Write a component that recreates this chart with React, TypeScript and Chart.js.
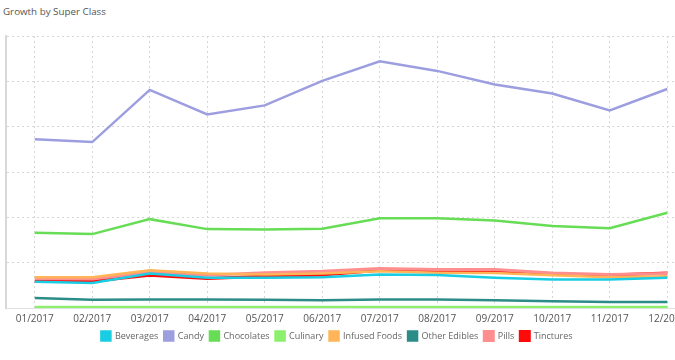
import React, { useEffect, useRef } from "react";
import { Chart, registerables } from "chart.js";

Chart.register(...registerables);

const months = ["01/2017", "02/2017", "03/2017", "04/2017", "05/2017", "06/2017", "07/2017", "08/2017", "09/2017", "10/2017", "11/2017", "12/2017"];

const beverages = [0.58, 0.55, 0.76, 0.67, 0.67, 0.68, 0.74, 0.73, 0.67, 0.63, 0.63, 0.67];
const candy = [3.72, 3.66, 4.81, 4.27, 4.47, 5.01, 5.44, 5.23, 4.93, 4.73, 4.36, 4.83];
const chocolates = [1.66, 1.63, 1.96, 1.74, 1.73, 1.75, 1.98, 1.98, 1.93, 1.81, 1.76, 2.1];
const culinary = [0.02, 0.02, 0.02, 0.02, 0.02, 0.02, 0.02, 0.02, 0.02, 0.02, 0.02, 0.02];
const infusedFoods = [0.68, 0.68, 0.83, 0.76, 0.74, 0.76, 0.81, 0.78, 0.77, 0.72, 0.68, 0.7];
const otherEdibles = [0.22, 0.18, 0.19, 0.19, 0.18, 0.17, 0.19, 0.19, 0.17, 0.15, 0.13, 0.13];
const pills = [0.65, 0.64, 0.79, 0.72, 0.78, 0.81, 0.87, 0.85, 0.85, 0.77, 0.74, 0.76];
const tinctures = [0.59, 0.59, 0.72, 0.65, 0.7, 0.73, 0.83, 0.82, 0.81, 0.75, 0.73, 0.77];

const seriesNames = ["Beverages", "Candy", "Chocolates", "Culinary", "Infused Foods", "Other Edibles", "Pills", "Tinctures"];
const seriesColors = ["#19cde3", "#9d9ee0", "#66dd55", "#8cf06c", "#ffb558", "#2b8c88", "#ff8f8f", "#ff0a0a"];
const seriesWidths = [2.5, 2.5, 2.5, 2.5, 2.5, 2.5, 3, 3];

const yTicks = [0, 1, 2, 3, 4, 5, 6];

const FONT = "'Open Sans', sans-serif";

export default function App() {
  const ref = useRef<HTMLCanvasElement | null>(null);

  useEffect(() => {
    if (!ref.current) return;
    const values = [beverages, candy, chocolates, culinary, infusedFoods, otherEdibles, pills, tinctures];
    const chart = new Chart(ref.current, {
      type: "line",
      data: {
        labels: months,
        datasets: seriesNames.map((name, i) => ({
          label: name,
          data: values[i],
          borderColor: seriesColors[i],
          backgroundColor: seriesColors[i],
          borderWidth: seriesWidths[i],
          pointRadius: 0,
          tension: 0,
          fill: false,
        })),
      },
      options: {
        responsive: false,
        animation: false,
        layout: { padding: { left: 0, right: 0, top: 36, bottom: 9.5 } },
        plugins: {
          tooltip: { enabled: false },
          legend: {
            position: "bottom",
            labels: {
              boxWidth: 9,
              boxHeight: 9,
              padding: 6,
              color: "#666",
              font: { family: FONT, size: 9 },
            },
          },
        },
        scales: {
          x: {
            offset: true,
            afterFit: (axis: any) => {
              axis.height -= 4.5;
            },
            grid: { color: "#d6d6d6", drawTicks: false },
            border: { display: true, color: "#e0e0e0", dash: [2, 3] },
            ticks: {
              color: "#555",
              padding: 5,
              maxRotation: 0,
              autoSkip: false,
              font: { family: FONT, size: 10 },
            },
          },
          y: {
            min: yTicks[0],
            max: yTicks[yTicks.length - 1],
            afterBuildTicks: (axis: any) => {
              axis.ticks = yTicks.map((v) => ({ value: v }));
            },
            afterFit: (axis: any) => {
              axis.width = 28;
            },
            grid: { color: "#d6d6d6", drawTicks: false },
            border: { display: true, color: "#d8d8d8", width: 2, dash: [2, 3] },
            ticks: { display: false },
          },
        },
      },
    });
    return () => chart.destroy();
  }, []);

  return (
    <div style={{ position: "fixed", left: 0, top: 0, width: 675, height: 360, overflow: "hidden", background: "#fff" }}>
      <div style={{ position: "absolute", left: 3, top: 5, fontFamily: FONT, fontSize: 9.8, color: "#555" }}>
        Growth by Super Class
      </div>
      <canvas ref={ref} width={718} height={360} style={{ position: "absolute", left: -22, top: 0 }} />
    </div>
  );
}
